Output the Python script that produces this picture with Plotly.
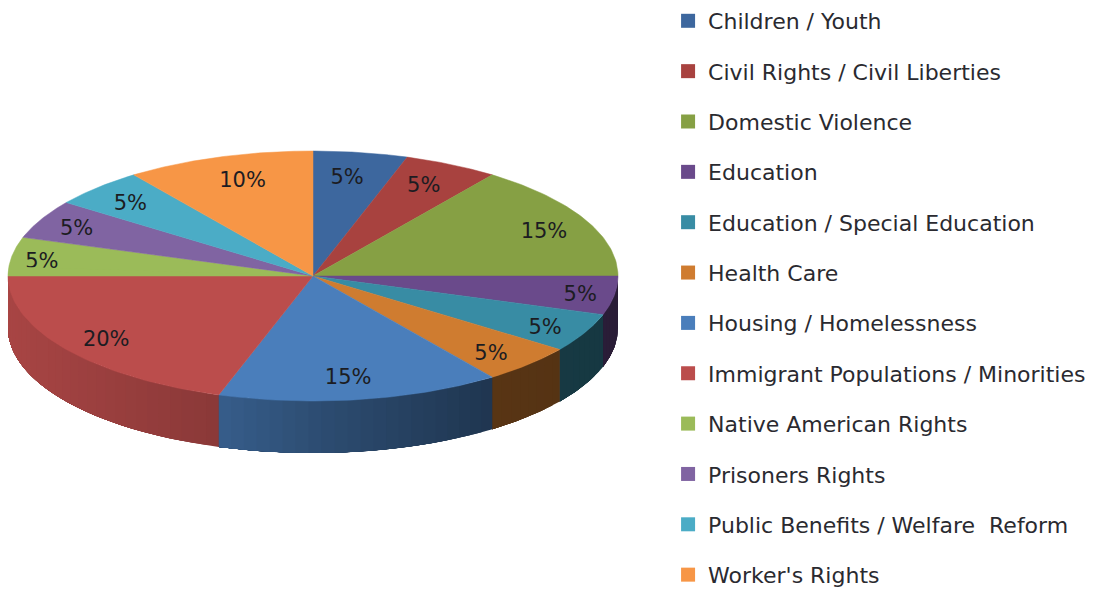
import numpy as np
import plotly.graph_objects as go

categories = ["Children / Youth", "Civil Rights / Civil Liberties", "Domestic Violence", "Education",
              "Education / Special Education", "Health Care", "Housing / Homelessness",
              "Immigrant Populations / Minorities", "Native American Rights", "Prisoners Rights",
              "Public Benefits / Welfare  Reform", "Worker's Rights"]
values = [5, 5, 15, 5, 5, 5, 15, 20, 5, 5, 5, 10]
colors = ["#3d679e", "#a8423f", "#86a044", "#6a4a8b", "#388ca4", "#cf7c30",
          "#4a7ebb", "#bb4d4c", "#9bbb59", "#8064a2", "#4bacc6", "#f79646"]
label_rx = [0.716, 0.80, 0.85, 0.887, 0.854, 0.825, 0.737, 0.838, 0.90, 0.87, 0.847, 0.747]
label_ry = [0.784, 0.80, 0.765, 1.005, 0.923, 0.893, 0.832, 0.877, 0.70, 0.815, 0.805, 0.792]

CX, CY, RX, RY, DEPTH = 313, 276, 305, 125, 52
TEXT = "#1c1c22"
FONT = "DejaVu Sans"


def px(t):
    return CX + RX * np.sin(np.radians(t))


def py(t):
    return CY - RY * np.cos(np.radians(t))


def shade(hex_color, f):
    rgb = [int(hex_color[i:i + 2], 16) for i in (1, 3, 5)]
    return "rgb(%d,%d,%d)" % tuple(int(c * f) for c in rgb)


edges = np.cumsum([0] + values) / sum(values) * 360
fig = go.Figure()

# side wall: front half of each slice; each strip overlaps the rest of its slice so no seams show
for i, color in enumerate(colors):
    a, b = max(edges[i], 90), min(edges[i + 1], 270)
    if a >= b:
        continue
    steps = np.linspace(a, b, int((b - a) / 2.5) + 2)
    for t0, t1 in zip(steps[:-1], steps[1:]):
        arc = np.linspace(t0, b, 30)
        xs = np.r_[px(arc), px(arc[::-1])]
        ys = np.r_[py(arc), py(arc[::-1]) + DEPTH]
        f = np.interp(px((t0 + t1) / 2), [8, 220, 330, 490, 618], [0.90, 0.74, 0.60, 0.43, 0.40])
        fig.add_trace(go.Scatter(x=xs, y=ys, mode="lines", fill="toself", fillcolor=shade(color, f),
                                 line=dict(width=0), showlegend=False, hoverinfo="skip"))

# top face and percent labels
for i, color in enumerate(colors):
    arc = np.linspace(edges[i], edges[i + 1], 60)
    xs = np.r_[CX, px(arc), CX]
    ys = np.r_[CY, py(arc), CY]
    fig.add_trace(go.Scatter(x=xs, y=ys, mode="lines", fill="toself", fillcolor=color,
                             line=dict(color=color, width=0.5), showlegend=False,
                             hovertemplate=categories[i] + ": %d%%<extra></extra>" % values[i]))

for i in range(len(values)):
    mid = (edges[i] + edges[i + 1]) / 2
    lx = CX + RX * label_rx[i] * np.sin(np.radians(mid))
    ly = CY - RY * label_ry[i] * np.cos(np.radians(mid))
    fig.add_trace(go.Scatter(x=[lx], y=[ly], mode="text", text=["%d%%" % values[i]],
                             textfont=dict(family=FONT, size=21, color=TEXT),
                             showlegend=False, hoverinfo="skip"))

# the reference cuts off the bottom of the Native American Rights label
native = categories.index("Native American Rights")
arc = np.linspace(edges[native], edges[native + 1], 60)
fig.add_trace(go.Scatter(x=np.r_[CX, px(arc), CX], y=np.maximum(np.r_[CY, py(arc), CY], 267),
                         mode="lines", fill="toself", fillcolor=colors[native],
                         line=dict(color=colors[native], width=0), showlegend=False, hoverinfo="skip"))

# legend entries
for i, name in enumerate(categories):
    fig.add_trace(go.Scatter(x=[None], y=[None], mode="markers", name=name, legendgroup=name,
                             marker=dict(symbol="square", size=14, color=colors[i])))

fig.update_layout(
    width=1097, height=590, margin=dict(l=0, r=0, t=0, b=0),
    paper_bgcolor="white", plot_bgcolor="white",
    xaxis=dict(range=[0, 1097], visible=False, fixedrange=True),
    yaxis=dict(range=[590, 0], visible=False, fixedrange=True),
    legend=dict(x=0.609, y=1.0, xanchor="left", yanchor="top", tracegroupgap=18.75, maxheight=800,
                font=dict(family=FONT, size=22, color="#2a2a30"), bgcolor="rgba(0,0,0,0)",
                itemclick=False, itemdoubleclick=False),
)
fig.write_html("out.html", config=dict(displayModeBar=False),
               post_script="document.body.style.margin='0';document.documentElement.style.overflow='hidden';")
